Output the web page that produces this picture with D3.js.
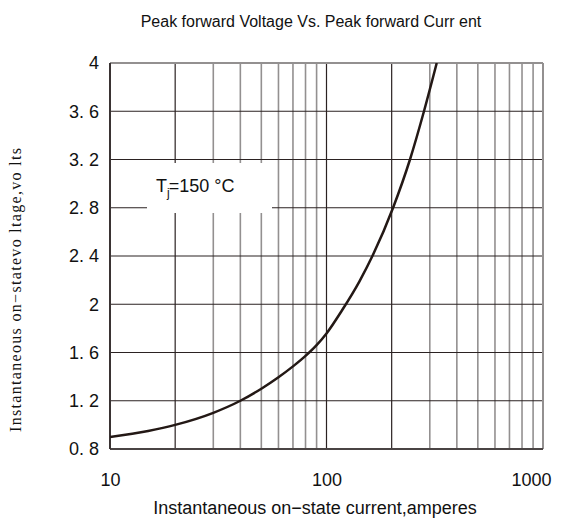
<!DOCTYPE html>
<html><head><meta charset="utf-8">
<script src="https://cdn.jsdelivr.net/npm/d3@7"></script>
<style>body{margin:0;background:#fff}</style>
</head><body><svg id="c" width="571" height="524"></svg>
<script>
const currentA = [10, 15, 20, 30, 40, 50, 60, 70, 80, 90, 100, 118, 142, 164, 203, 243, 282, 323];
const voltageV = [0.9, 0.95, 1.0, 1.1, 1.2, 1.3, 1.395, 1.485, 1.572, 1.661, 1.758, 1.95, 2.19, 2.41, 2.8, 3.2, 3.6, 4.0];
const yTicks = [0.8, 1.2, 1.6, 2, 2.4, 2.8, 3.2, 3.6, 4];
const yTickLabels = ["0. 8", "1. 2", "1. 6", "2", "2. 4", "2. 8", "3. 2", "3. 6", "4"];
const xTicks = [10, 100, 1000];
const xTickLabels = ["10", "100", "1000"];
const xMinor = [20, 30, 40, 50, 60, 70, 80, 90, 200, 300, 400, 500, 600, 700, 800, 900];
const xMinorDark = [20, 200];
const titleText = "Peak forward Voltage Vs. Peak forward Curr ent";
const xTitle = "Instantaneous on\u2212state current,amperes";
const yTitle = "Instantaneous on\u2212statevo ltage,vo lts";

const svg = d3.select("#c");
const m = {l: 110, r: 543, t: 63, b: 449};
const x = d3.scaleLog().domain([10, 1000]).range([m.l, m.r]);
const y = d3.scaleLinear().domain([0.8, 4]).range([m.b, m.t]);
const dark = "#2b2222", gray = "#939090";
const sans = "Liberation Sans, Arial, sans-serif";

// minor vertical grid
svg.append("g").selectAll("line").data(xMinor).join("line")
  .attr("x1", d => x(d)).attr("x2", d => x(d)).attr("y1", m.t).attr("y2", m.b)
  .attr("stroke", d => xMinorDark.includes(d) ? dark : gray)
  .attr("stroke-width", d => xMinorDark.includes(d) ? 1.2 : 1.6);
// major vertical grid (100)
svg.append("g").selectAll("line").data([100]).join("line")
  .attr("x1", d => x(d)).attr("x2", d => x(d)).attr("y1", m.t).attr("y2", m.b)
  .attr("stroke", dark).attr("stroke-width", 1.2);
// horizontal grid
svg.append("g").selectAll("line").data(yTicks.slice(1, -1)).join("line")
  .attr("x1", m.l).attr("x2", m.r).attr("y1", d => y(d)).attr("y2", d => y(d))
  .attr("stroke", dark).attr("stroke-width", 1.2);

// frame
svg.append("line").attr("x1", m.l).attr("x2", m.r).attr("y1", m.t).attr("y2", m.t).attr("stroke", gray).attr("stroke-width", 2);
svg.append("line").attr("x1", m.r).attr("x2", m.r).attr("y1", m.t).attr("y2", m.b).attr("stroke", gray).attr("stroke-width", 2);
svg.append("line").attr("x1", m.l).attr("x2", m.r).attr("y1", m.b).attr("y2", m.b).attr("stroke", "#4a4444").attr("stroke-width", 2);
svg.append("line").attr("x1", m.l).attr("x2", m.l).attr("y1", m.t).attr("y2", m.b).attr("stroke", "#3a3333").attr("stroke-width", 2);

// annotation box
svg.append("rect").attr("x", 147).attr("y", 163).attr("width", 125).attr("height", 50).attr("fill", "#fff");
const ann = svg.append("text").attr("x", 156).attr("y", 192).attr("font-family", sans)
  .attr("font-size", 18).attr("fill", "#111");
ann.append("tspan").text("T");
ann.append("tspan").attr("font-size", 12).attr("dy", 5).text("j");
ann.append("tspan").attr("dy", -5).attr("dx", -1).text("=150 \u00b0C");

// curve
svg.append("defs").append("clipPath").attr("id", "clip").append("rect")
  .attr("x", m.l).attr("y", m.t).attr("width", m.r - m.l).attr("height", m.b - m.t);
const line = d3.line().x(d => x(d[0])).y(d => y(d[1])).curve(d3.curveMonotoneX);
svg.append("path").datum(currentA.map((c, i) => [c, voltageV[i]]))
  .attr("d", line).attr("fill", "none").attr("stroke", "#231815").attr("stroke-width", 2.5)
  .attr("clip-path", "url(#clip)");

// y axis labels
const yAxis = d3.axisLeft(y).tickValues(yTicks).tickSize(0).tickPadding(11)
  .tickFormat((d, i) => yTickLabels[i]);
const gy = svg.append("g").attr("transform", `translate(${m.l},0)`).call(yAxis);
gy.select(".domain").remove();
gy.selectAll("text").attr("font-family", sans).attr("font-size", 18).attr("fill", "#111");

// x axis labels
const xAxis = d3.axisBottom(x).tickValues(xTicks).tickSize(0).tickPadding(24)
  .tickFormat((d, i) => xTickLabels[i]);
const gx = svg.append("g").attr("transform", `translate(0,${m.b})`).call(xAxis);
gx.select(".domain").remove();
gx.selectAll("text").attr("font-family", sans).attr("font-size", 18).attr("fill", "#111")
  .attr("dx", (d, i) => i === xTicks.length - 1 ? -12 : 0);

// titles
svg.append("text").attr("x", 311).attr("y", 27).attr("text-anchor", "middle")
  .attr("font-family", sans).attr("font-size", 16).attr("fill", "#111").text(titleText);
svg.append("text").attr("x", 315).attr("y", 514).attr("text-anchor", "middle")
  .attr("font-family", sans).attr("font-size", 18).attr("fill", "#111").text(xTitle);
svg.append("text").attr("transform", "translate(21,290) rotate(-90)").attr("text-anchor", "middle")
  .attr("font-family", "Liberation Serif, Times New Roman, serif").attr("font-size", 16)
  .attr("textLength", 284).attr("lengthAdjust", "spacing").attr("fill", "#111").text(yTitle);
</script></body></html>
